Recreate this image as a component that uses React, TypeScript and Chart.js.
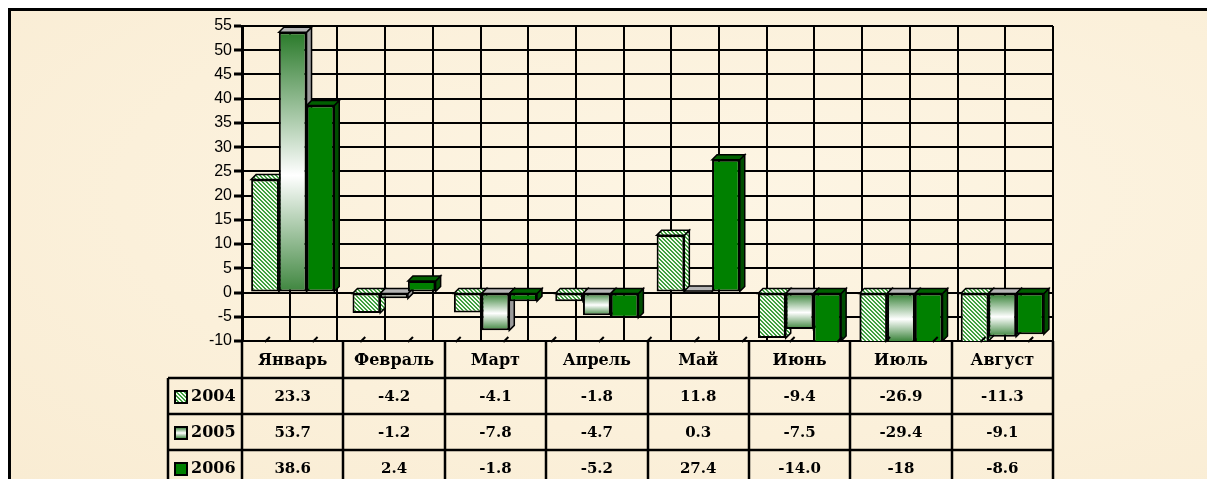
import React, { useEffect, useRef } from "react";
import { Chart, registerables } from "chart.js";

Chart.register(...registerables);

const categories = ["Январь", "Февраль", "Март", "Апрель", "Май", "Июнь", "Июль", "Август"];
const seriesLabels = ["2004", "2005", "2006"];
const values2004 = [23.3, -4.2, -4.1, -1.8, 11.8, -9.4, -26.9, -11.3];
const values2005 = [53.7, -1.2, -7.8, -4.7, 0.3, -7.5, -29.4, -9.1];
const values2006 = [38.6, 2.4, -1.8, -5.2, 27.4, -14.0, -18, -8.6];
const tableText2004 = ["23.3", "-4.2", "-4.1", "-1.8", "11.8", "-9.4", "-26.9", "-11.3"];
const tableText2005 = ["53.7", "-1.2", "-7.8", "-4.7", "0.3", "-7.5", "-29.4", "-9.1"];
const tableText2006 = ["38.6", "2.4", "-1.8", "-5.2", "27.4", "-14.0", "-18", "-8.6"];
const yMin = -10;
const yMax = 55;
const yStep = 5;

const W = 1204;
const H = 468;
const DEPTH = 5;
const SERIF = "'DejaVu Serif', serif";

function makeHatch(): CanvasPattern | string {
  const c = document.createElement("canvas");
  c.width = 4;
  c.height = 4;
  const g = c.getContext("2d");
  if (!g) return "#9fd09f";
  g.fillStyle = "#f4fbf0";
  g.fillRect(0, 0, 4, 4);
  g.fillStyle = "#3f9f3f";
  for (let i = 0; i < 4; i++) {
    g.fillRect(i, i, 1, 1);
    g.fillRect((i + 1) % 4, i, 1, 1);
  }
  const p = g.createPattern(c, "repeat");
  return p || "#9fd09f";
}

export default function App() {
  const ref = useRef<HTMLCanvasElement | null>(null);

  useEffect(() => {
    document.documentElement.style.overflow = "hidden";
    document.body.style.overflow = "hidden";
    const canvas = ref.current;
    if (!canvas) return;
    const hatch = makeHatch();

    const gradFor = (ctx: any) => {
      const chart = ctx.chart;
      const ys = chart.scales && chart.scales.y;
      const area = chart.chartArea;
      if (!ys || !area || ctx.type !== "data") return "#dfe9df";
      const v = ctx.raw as number;
      const y0 = ys.getPixelForValue(0);
      const y1 = ys.getPixelForValue(v);
      let top = Math.max(Math.min(y0, y1), area.top);
      let bot = Math.min(Math.max(y0, y1), area.bottom);
      if (bot - top < 1) bot = top + 1;
      const g = chart.ctx.createLinearGradient(0, top, 0, bot);
      g.addColorStop(0, "#2a7a2a");
      g.addColorStop(0.55, "#ffffff");
      g.addColorStop(1, "#3d853d");
      return g;
    };

    const sideColors = [hatch, "#9a9a9a", "#004d00"];
    const topColors = [hatch, "#b5b5b5", "#006000"];

    const depthPlugin = {
      id: "depth3d",
      beforeDatasetsDraw(chart: any) {
        const ctx = chart.ctx;
        const area = chart.chartArea;
        ctx.save();
        ctx.beginPath();
        ctx.rect(area.left, area.top - DEPTH - 2, area.right - area.left + DEPTH + 2, area.bottom - area.top + DEPTH + 2);
        ctx.clip();
        ctx.strokeStyle = "#000";
        ctx.lineWidth = 1.5;
        chart.data.datasets.forEach((ds: any, di: number) => {
          const meta = chart.getDatasetMeta(di);
          meta.data.forEach((el: any) => {
            const p = el.getProps(["x", "y", "base", "width"], true);
            const l = p.x - p.width / 2;
            const r = p.x + p.width / 2;
            const t = Math.min(p.y, p.base);
            const b = Math.min(Math.max(p.y, p.base), area.bottom);
            ctx.beginPath();
            ctx.moveTo(r, t);
            ctx.lineTo(r + DEPTH, t - DEPTH);
            ctx.lineTo(r + DEPTH, b - DEPTH);
            ctx.lineTo(r, b);
            ctx.closePath();
            ctx.fillStyle = sideColors[di];
            ctx.fill();
            ctx.stroke();
            ctx.beginPath();
            ctx.moveTo(l, t);
            ctx.lineTo(l + DEPTH, t - DEPTH);
            ctx.lineTo(r + DEPTH, t - DEPTH);
            ctx.lineTo(r, t);
            ctx.closePath();
            ctx.fillStyle = topColors[di];
            ctx.fill();
            ctx.stroke();
          });
        });
        ctx.restore();
      },
    };

    const tablePlugin = {
      id: "dataTable",
      afterDraw(chart: any) {
        const ctx = chart.ctx;
        const area = chart.chartArea;
        const xs = chart.scales.x;
        const x2 = chart.scales.x2;
        const colW = (area.right - area.left) / categories.length;
        const headerBottom = area.bottom + 37;
        const rowH = 36;
        const legendLeft = area.left - 74;
        ctx.save();
        ctx.strokeStyle = "#000";
        ctx.lineWidth = 2;
        for (let k = 0; k <= categories.length * 2; k++) {
          const x = x2.getPixelForValue(k * 0.5);
          ctx.beginPath();
          ctx.moveTo(x - 1, area.bottom + 1);
          ctx.lineTo(x + 4, area.bottom - 4);
          ctx.stroke();
        }
        ctx.lineWidth = 2.5;
        ctx.beginPath();
        for (let i = 0; i <= categories.length; i++) {
          const x = Math.round(area.left + i * colW);
          ctx.moveTo(x, area.bottom);
          ctx.lineTo(x, H);
        }
        ctx.moveTo(legendLeft, headerBottom);
        ctx.lineTo(legendLeft, H);
        for (let r = 0; r < 3; r++) {
          const y = headerBottom + r * rowH;
          ctx.moveTo(legendLeft, y);
          ctx.lineTo(area.right + 1, y);
        }
        ctx.stroke();

        ctx.fillStyle = "#000";
        ctx.textAlign = "center";
        ctx.textBaseline = "middle";
        ctx.font = "bold 16px " + SERIF;
        categories.forEach((c, i) => {
          ctx.fillText(c, xs.getPixelForValue(i), (area.bottom + headerBottom) / 2 + 1);
        });
        ctx.font = "bold 15px " + SERIF;
        const rows = [tableText2004, tableText2005, tableText2006];
        rows.forEach((row, r) => {
          const cy = headerBottom + r * rowH + rowH / 2 + 1;
          row.forEach((t, i) => {
            ctx.fillText(t, xs.getPixelForValue(i), cy);
          });
        });
        const keyFills: any[] = [hatch, null, "#008000"];
        ctx.font = "bold 16px " + SERIF;
        seriesLabels.forEach((s, r) => {
          const cy = headerBottom + r * rowH + rowH / 2;
          const kx = legendLeft + 7;
          const ky = cy - 5;
          const ks = 12;
          if (r === 1) {
            const g = ctx.createLinearGradient(0, ky, 0, ky + ks);
            g.addColorStop(0, "#2a7a2a");
            g.addColorStop(0.5, "#ffffff");
            g.addColorStop(1, "#2a7a2a");
            ctx.fillStyle = g;
          } else {
            ctx.fillStyle = keyFills[r];
          }
          ctx.fillRect(kx, ky, ks, ks);
          ctx.lineWidth = 2;
          ctx.strokeRect(kx, ky, ks, ks);
          ctx.fillStyle = "#000";
          ctx.textAlign = "left";
          ctx.fillText(s, legendLeft + 23, cy + 1);
        });
        ctx.restore();
      },
    };

    const chart = new Chart(canvas, {
      type: "bar",
      data: {
        labels: categories,
        datasets: [
          { label: seriesLabels[0], data: values2004, backgroundColor: hatch as any, borderColor: "#000", borderWidth: 2, borderSkipped: false, xAxisID: "x", yAxisID: "y" },
          { label: seriesLabels[1], data: values2005, backgroundColor: gradFor as any, borderColor: "#000", borderWidth: 2, borderSkipped: false, xAxisID: "x", yAxisID: "y" },
          { label: seriesLabels[2], data: values2006, backgroundColor: "#008000", borderColor: "#000", borderWidth: 2, borderSkipped: false, xAxisID: "x", yAxisID: "y" },
        ],
      },
      options: {
        animation: false,
        responsive: false,
        maintainAspectRatio: false,
        events: [],
        datasets: { bar: { barPercentage: 1, categoryPercentage: 0.82 } },
        layout: { padding: { left: 0, right: 162, top: 15, bottom: 0 } },
        plugins: { legend: { display: false }, tooltip: { enabled: false }, title: { display: false } },
        scales: {
          x: {
            type: "category",
            position: "bottom",
            offset: true,
            grid: { display: false },
            border: { display: false },
            ticks: { display: false },
            afterFit: (s: any) => { s.height = 138; },
          },
          x2: {
            type: "linear",
            position: "bottom",
            min: 0,
            max: categories.length,
            ticks: { stepSize: 0.5, display: false },
            grid: { color: "#000", lineWidth: 2, drawTicks: false },
            border: { display: false },
            afterFit: (s: any) => { s.height = 0; },
          },
          y: {
            min: yMin,
            max: yMax,
            ticks: { stepSize: yStep, color: "#000", font: { family: "'Liberation Sans', Arial, sans-serif", size: 16 }, padding: 2 },
            grid: { color: "#000", lineWidth: 2, tickLength: 8, tickWidth: 3, tickColor: "#000" },
            border: { display: true, color: "#000", width: 3 },
            afterFit: (s: any) => { s.width = 231; },
          },
        },
      } as any,
      plugins: [depthPlugin, tablePlugin],
    });
    return () => chart.destroy();
  }, []);

  return (
    <div
      style={{
        width: W,
        height: H,
        borderTop: "3px solid #000",
        borderLeft: "3px solid #000",
        background: "radial-gradient(ellipse at 60% 40%, #fdf5e4 0%, #fbf0da 60%, #f9ecd3 100%)",
      }}
    >
      <canvas ref={ref} width={W} height={H} style={{ display: "block", width: W, height: H }} />
    </div>
  );
}
